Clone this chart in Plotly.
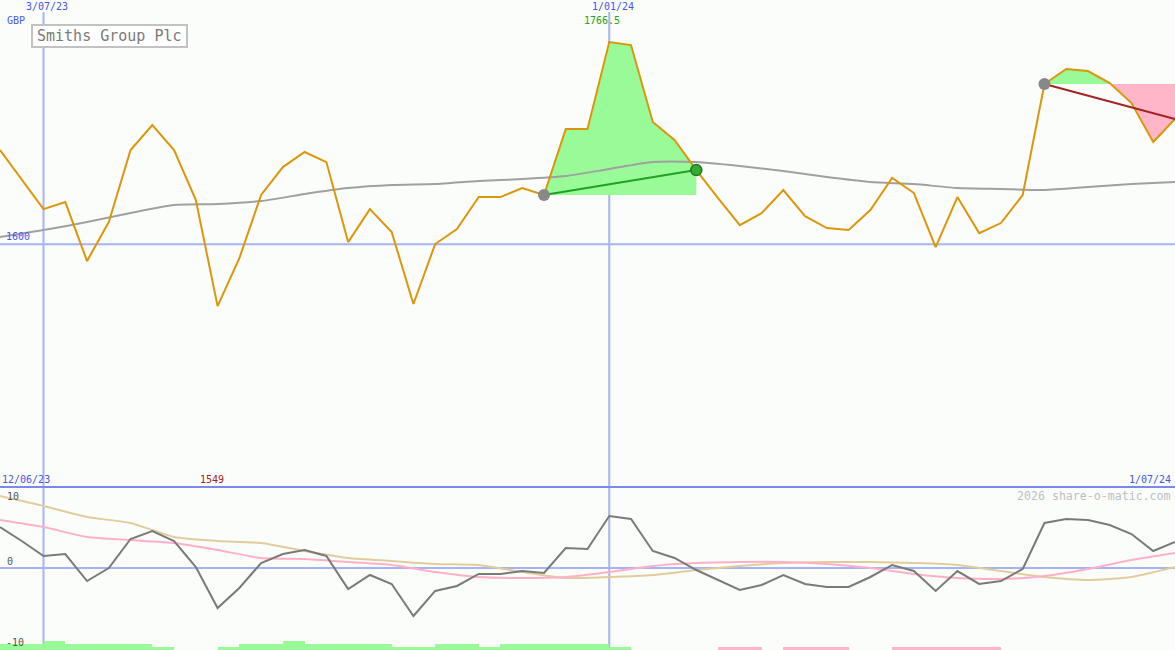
import numpy as np
import pandas as pd
import plotly.graph_objects as go

W, H = 1175, 650

# ---------------- data ----------------
dates = pd.date_range("2023-06-19", periods=55, freq="7D")

price = [1677.5, 1652.8, 1628.9, 1634.7, 1586.1, 1618.2, 1677.5, 1698.1, 1677.5, 1636.3,
         1549.0, 1588.5, 1640.5, 1663.5, 1675.9, 1667.6, 1601.7, 1628.9, 1610.0, 1550.7,
         1600.1, 1612.5, 1638.8, 1638.8, 1646.2, 1640.5, 1694.8, 1694.8, 1766.5, 1764.0,
         1700.6, 1685.8, 1661.0, 1638.0, 1615.7, 1625.6, 1644.6, 1623.1, 1613.3, 1611.6,
         1628.1, 1654.5, 1642.1, 1597.6, 1638.8, 1609.1, 1617.4, 1640.5, 1731.9, 1744.3,
         1742.6, 1732.7, 1716.2, 1684.1, 1703.1]

ma_dates = dates[::2]
price_ma = [1605.8, 1611.6, 1618.2, 1625.6, 1632.2, 1633.0, 1635.5, 1641.3, 1646.2, 1648.7,
            1649.5, 1652.0, 1653.6, 1656.1, 1661.9, 1667.6, 1667.6, 1664.3, 1660.2, 1655.3,
            1651.2, 1649.5, 1646.2, 1645.4, 1644.6, 1647.0, 1649.5, 1651.2]

osc = [5.69, 3.75, 1.67, 1.94, -1.81, 0.0, 4.03, 5.14, 3.75, 0.14,
       -5.56, -2.78, 0.69, 1.94, 2.5, 1.67, -2.92, -0.97, -2.22, -6.67,
       -3.19, -2.5, -0.83, -0.83, -0.42, -0.69, 2.78, 2.64, 7.22, 6.81,
       2.36, 1.39, -0.28, -1.67, -3.06, -2.36, -0.97, -2.22, -2.64, -2.64,
       -1.25, 0.42, -0.42, -3.19, -0.42, -2.22, -1.81, -0.14, 6.25, 6.81,
       6.67, 5.97, 4.72, 2.36, 3.61]

osc_fast = [6.67, 5.69, 4.31, 3.89, 3.47, 2.5, 1.39, 1.25, 0.83, 0.42,
            -0.56, -1.25, -1.39, -1.25, -0.56, 0.28, 0.69, 0.83, 0.83, 0.56,
            0.0, -0.83, -1.39, -1.53, -1.11, -0.14, 1.11, 2.08]

osc_slow = [10.0, 8.61, 7.08, 6.25, 4.31, 3.75, 3.47, 2.36, 1.39, 0.97,
            0.56, 0.42, -0.56, -1.39, -1.25, -0.97, -0.28, 0.28, 0.69, 0.83,
            0.83, 0.69, 0.42, -0.42, -1.25, -1.67, -1.25, 0.14]

# weekly signal strength bars (interval between consecutive weeks)
signal = [2, 2, 3, 2, 2, 2, 2, 1, 0, 0,
          1, 2, 2, 3, 2, 2, 2, 2, 1, 1,
          2, 2, 1, 2, 2, 2, 2, 2, 1, 0,
          0, 0, 0, -1, -1, 0, -1, -1, -1, 0,
          0, -1, -1, -1, -1, -1, 0, 0, 0, 0,
          0, 0, 0, 0]

trade1 = ("2023-12-11", "2024-01-29")   # closed (profit)
trade2 = ("2024-05-20", "2024-07-01")   # open

# ---------------- helpers ----------------
wk = np.array([(d - dates[0]).days / 7.0 for d in dates])
wk_ma = np.array([(d - dates[0]).days / 7.0 for d in ma_dates])
idx = {d.strftime("%Y-%m-%d"): i for i, d in enumerate(dates)}

def px(x, y):
    return x / W, 1 - y / H

BG = "#FBFDFB"
GRID = "#A4B4F4"
BLUE_TXT = "#4455EE"
GREEN_FILL = "#98FB98"
PINK_FILL = "#FFB6C8"
FONT = "DejaVu Sans Mono"

def split_fill(i0, i1, level):
    xs = list(wk[i0:i1 + 1]); ys = list(price[i0:i1 + 1])
    fx, fy = [xs[0]], [ys[0]]
    for k in range(1, len(xs)):
        a, b = ys[k - 1] - level, ys[k] - level
        if a * b < 0:
            t = a / (a - b)
            fx.append(xs[k - 1] + t * (xs[k] - xs[k - 1])); fy.append(level)
        fx.append(xs[k]); fy.append(ys[k])
    up = [max(v, level) for v in fy]
    dn = [min(v, level) for v in fy]
    return fx, up, dn

fig = go.Figure()

# ---- signal bars (bottom strip) ----
sig_x = [wk[i] + 0.5 for i in range(len(signal))]
sig_y = [abs(s) for s in signal]
sig_c = [GREEN_FILL if s > 0 else PINK_FILL for s in signal]
fig.add_trace(go.Bar(x=sig_x, y=sig_y, width=1.0, marker=dict(color=sig_c, line=dict(width=0)),
                     yaxis="y3", showlegend=False, hoverinfo="skip"))

# ---- oscillator panel ----
fig.add_trace(go.Scatter(x=wk_ma, y=osc_slow, mode="lines", yaxis="y2",
                         line=dict(color="#E2CC9C", width=2, shape="spline", smoothing=0.6),
                         showlegend=False))
fig.add_trace(go.Scatter(x=wk_ma, y=osc_fast, mode="lines", yaxis="y2",
                         line=dict(color="#FFB0C8", width=2, shape="spline", smoothing=0.6),
                         showlegend=False))
fig.add_trace(go.Scatter(x=wk, y=osc, mode="lines", yaxis="y2",
                         line=dict(color="#7A7A7A", width=2), showlegend=False))

# ---- trade fills ----
for (d0, d1) in (trade1, trade2):
    i0, i1 = idx[d0], idx[d1]
    level = price[i0]
    fx, up, dn = split_fill(i0, i1, level)
    fig.add_trace(go.Scatter(x=fx + fx[::-1], y=up + [level] * len(fx), fill="toself",
                             fillcolor=GREEN_FILL, line=dict(width=0), mode="lines",
                             showlegend=False, hoverinfo="skip"))
    fig.add_trace(go.Scatter(x=fx + fx[::-1], y=dn + [level] * len(fx), fill="toself",
                             fillcolor=PINK_FILL, line=dict(width=0), mode="lines",
                             showlegend=False, hoverinfo="skip"))

# ---- price moving average ----
fig.add_trace(go.Scatter(x=wk_ma, y=price_ma, mode="lines",
                         line=dict(color="#A0A0A0", width=2, shape="spline", smoothing=0.6),
                         showlegend=False))

# ---- price ----
fig.add_trace(go.Scatter(x=wk, y=price, mode="lines",
                         line=dict(color="#DC960A", width=2), showlegend=False))

# ---- trade lines & markers ----
i0, i1 = idx[trade1[0]], idx[trade1[1]]
fig.add_trace(go.Scatter(x=[wk[i0], wk[i1]], y=[price[i0], price[i1]], mode="lines",
                         line=dict(color="#22A022", width=2), showlegend=False))
fig.add_trace(go.Scatter(x=[wk[i0]], y=[price[i0]], mode="markers",
                         marker=dict(color="#888888", size=12), showlegend=False))
fig.add_trace(go.Scatter(x=[wk[i1]], y=[price[i1]], mode="markers",
                         marker=dict(color="#33AA33", size=11, line=dict(color="#1E7A1E", width=1.5)),
                         showlegend=False))
j0, j1 = idx[trade2[0]], idx[trade2[1]]
fig.add_trace(go.Scatter(x=[wk[j0], wk[j1]], y=[price[j0], price[j1]], mode="lines",
                         line=dict(color="#A52222", width=2), showlegend=False))
fig.add_trace(go.Scatter(x=[wk[j0]], y=[price[j0]], mode="markers",
                         marker=dict(color="#888888", size=12), showlegend=False))

# ---------------- layout ----------------
split = 163 / H
shapes = []
# vertical date lines
for d in ("2023-07-03", "2024-01-01"):
    shapes.append(dict(type="line", xref="x", yref="paper", x0=wk[idx[d]], x1=wk[idx[d]],
                       y0=0, y1=1 - 12 / H, line=dict(color=GRID, width=2), layer="below"))
# 1600 line
shapes.append(dict(type="line", xref="paper", yref="y", x0=0, x1=1, y0=1600, y1=1600,
                   line=dict(color=GRID, width=2), layer="below"))
# zero line lower panel
shapes.append(dict(type="line", xref="paper", yref="y2", x0=0, x1=1, y0=0, y1=0,
                   line=dict(color=GRID, width=2), layer="below"))
# separator
shapes.append(dict(type="line", xref="paper", yref="paper", x0=0, x1=1, y0=split, y1=split,
                   line=dict(color="#7C88EC", width=2), layer="below"))
# title box
bx0, by0 = px(32, 25); bx1, by1 = px(187, 47)
shapes.append(dict(type="rect", xref="paper", yref="paper", x0=bx0, x1=bx1, y0=by1, y1=by0,
                   line=dict(color="#C2C2C2", width=2), fillcolor="#FFFFFF", layer="above"))

ann = []
def label(text, x, y, color, size=10, xanchor="center", **kw):
    xp, yp = px(x, y)
    ann.append(dict(text=text, x=xp, y=yp, xref="paper", yref="paper", showarrow=False,
                    xanchor=xanchor, yanchor="middle", font=dict(family=FONT, size=size, color=color), **kw))

label("3/07/23", 47, 7, BLUE_TXT)
label("1/01/24", 613, 7, BLUE_TXT)
label(f"{max(price):g}", 602, 21, "#22A022")
label("GBP", 5, 20, BLUE_TXT, xanchor="left")
label("1600", 4, 237, BLUE_TXT, xanchor="left")
label("12/06/23", 0, 479, BLUE_TXT, xanchor="left")
label(f"{min(price):g}", 212, 479, "#A02020")
label("1/07/24", 1173, 479, BLUE_TXT, xanchor="right")
label("2026 share-o-matic.com", 1173, 496, "#C0C0C0", size=11.6, xanchor="right")
label("10", 5, 496, "#555555", xanchor="left")
label("0", 5, 561, "#555555", xanchor="left")
label("-10", 4, 642, "#555555", xanchor="left")
label("Smiths Group Plc", 109.5, 36, "#7A7A7A", size=15)

fig.update_layout(
    width=W, height=H, autosize=False,
    margin=dict(l=0, r=0, t=0, b=0, pad=0),
    paper_bgcolor=BG, plot_bgcolor=BG,
    showlegend=False, bargap=0,
    xaxis=dict(range=[0, 54], visible=False, fixedrange=True),
    yaxis=dict(domain=[split, 1], range=[1400, 1801.1], visible=False),
    yaxis2=dict(domain=[0, split], range=[-11.39, 11.25], visible=False),
    yaxis3=dict(domain=[0, split], range=[0, 163 / 3], visible=False, overlaying="y2"),
    shapes=shapes, annotations=ann,
)

fig.write_html("out.html", config={"displayModeBar": False},
               post_script="document.body.style.margin='0';document.body.style.overflow='hidden';")
